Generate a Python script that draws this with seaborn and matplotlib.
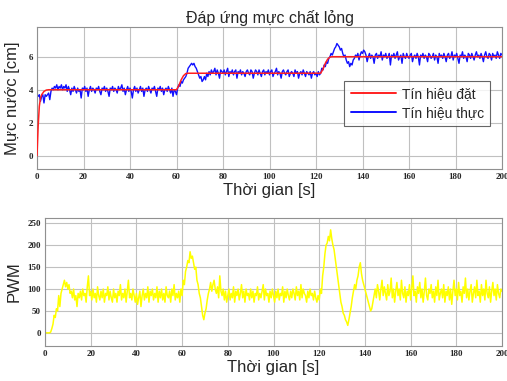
import numpy as np
import pandas as pd
import matplotlib
matplotlib.use("Agg")
import matplotlib.pyplot as plt
import seaborn as sns

# ---------------- data ----------------
title = "Đáp ứng mực chất lỏng"
ylabel_top = "Mực nước [cm]"
ylabel_bot = "PWM"
xlabel = "Thời gian [s]"
legend_labels = ["Tín hiệu đặt", "Tín hiệu thực"]

setpoint_t = [0, 0.5, 1, 1.5, 2, 3, 4, 5, 60, 61, 62, 63, 64, 65,
              122, 123, 124, 125, 126, 127, 200]
setpoint_v = [0, 1.8, 3.0, 3.5, 3.7, 3.9, 3.98, 4.0, 4.0, 4.25, 4.6, 4.85, 4.98, 5.0,
              5.0, 5.25, 5.6, 5.85, 5.98, 6.0, 6.0]

# samples every 0.5 s, 0 .. 200 s
time_s = [i * 0.5 for i in range(401)]

level_cm = [
    3.7, 3.6, 3.7, 3.3, 3.6, 3.7, 3.2, 3.7, 3.6, 3.7, 3.8, 3.4, 3.9, 4.1, 4.0, 4.2, 4.1, 4.3, 4.0, 4.2,
    4.1, 4.3, 4.0, 4.2, 4.1, 4.3, 3.9, 4.2, 4.0, 3.7, 4.1, 3.9, 4.2, 4.0, 3.8, 4.1, 3.9, 4.0, 3.5, 4.1,
    4.0, 4.2, 3.9, 4.1, 3.6, 4.0, 4.2, 3.9, 4.1, 4.0, 3.8, 4.1, 4.0, 4.2, 3.9, 3.7, 4.1, 4.0, 4.2, 3.9,
    4.1, 3.9, 3.6, 4.1, 4.0, 4.2, 3.9, 4.1, 4.0, 3.8, 4.2, 4.0, 4.1, 4.3, 3.9, 4.1, 3.7, 4.0, 4.2, 3.9,
    4.1, 3.9, 3.5, 4.0, 4.2, 3.9, 4.1, 3.8, 4.0, 4.2, 3.9, 4.1, 3.6, 4.0, 4.1, 3.9, 4.2, 4.0, 3.8, 4.1,
    4.0, 4.2, 3.9, 3.6, 4.1, 4.0, 4.2, 3.9, 4.1, 3.7, 4.0, 4.1, 3.9, 4.2, 4.0, 3.8, 4.1, 3.6, 4.0, 3.9,
    3.7, 4.1, 4.3, 4.2, 4.5, 4.4, 4.6, 4.7, 4.8, 5.0, 5.3, 5.4, 5.5, 5.6, 5.5, 5.6, 5.4, 5.3, 5.1, 4.9,
    4.7, 4.8, 4.5, 4.6, 4.8, 4.6, 5.0, 4.8, 5.1, 4.9, 5.2, 5.0, 5.1, 5.3, 4.9, 5.2, 5.0, 4.7, 5.2, 5.1,
    5.0, 5.2, 4.9, 5.1, 5.3, 4.8, 5.1, 5.0, 5.2, 4.9, 5.1, 5.2, 4.7, 5.1, 5.0, 5.2, 4.9, 5.1, 5.0, 4.8,
    5.1, 5.2, 5.0, 4.9, 5.2, 5.1, 4.7, 5.0, 5.2, 5.1, 4.9, 5.2, 5.0, 4.8, 5.1, 5.2, 4.9, 5.1, 5.0, 5.2,
    4.9, 5.1, 5.2, 4.8, 5.0, 5.1, 5.3, 4.9, 5.1, 5.0, 4.7, 5.1, 5.2, 5.0, 4.9, 5.1, 5.2, 4.8, 5.0, 5.1,
    5.0, 4.8, 5.2, 5.0, 5.1, 4.7, 5.0, 5.1, 4.9, 5.2, 5.0, 4.8, 5.1, 5.0, 4.9, 5.1, 4.7, 5.0, 5.1, 4.9,
    5.0, 4.8, 5.1, 4.9, 5.0, 5.3, 5.2, 5.5, 5.4, 5.7, 5.6, 5.9, 6.0, 6.2, 6.1, 6.3, 6.5, 6.6, 6.8, 6.7,
    6.6, 6.4, 6.5, 6.2, 6.0, 6.1, 5.8, 5.6, 5.7, 5.4, 5.6, 5.5, 5.8, 5.9, 6.1, 6.0, 6.2, 5.8, 6.1, 6.3,
    6.2, 6.4, 6.3, 6.1, 5.7, 6.0, 6.2, 5.9, 6.1, 6.0, 5.6, 6.1, 6.2, 5.9, 6.1, 6.0, 6.3, 5.8, 6.1, 6.0,
    6.2, 5.9, 6.0, 6.2, 5.5, 6.1, 6.0, 6.2, 5.9, 6.1, 6.3, 5.8, 6.0, 6.1, 5.6, 6.2, 6.0, 5.9, 6.2, 6.0,
    5.9, 6.1, 6.2, 5.7, 6.0, 6.1, 5.9, 6.2, 6.0, 5.5, 6.1, 6.0, 6.2, 5.9, 6.1, 6.0, 5.7, 6.2, 6.1, 5.9,
    6.0, 6.2, 5.8, 6.1, 6.0, 5.6, 6.2, 6.0, 6.1, 5.9, 6.2, 6.0, 5.7, 6.1, 6.2, 5.9, 6.0, 6.3, 5.8, 6.1,
    6.0, 6.2, 5.9, 5.6, 6.1, 6.0, 6.3, 5.9, 6.1, 6.0, 5.7, 6.2, 6.1, 5.9, 6.2, 6.0, 5.8, 6.1, 6.3, 6.0,
    6.1, 5.9, 6.2, 6.0, 5.7, 6.1, 6.3, 6.0, 5.9, 6.2, 6.1, 5.8, 6.2, 6.0, 6.1, 5.9, 6.3, 6.1, 5.9, 6.2,
    6.1,
]

pwm = [
    0, 0, 0, 0, 0, 2, 10, 20, 40, 35, 55, 50, 85, 60, 90, 100, 110, 120, 105, 115,
    100, 110, 90, 95, 80, 100, 75, 85, 60, 90, 80, 95, 75, 100, 85, 90, 70, 105, 130, 85,
    95, 75, 100, 80, 90, 70, 105, 85, 75, 95, 80, 100, 70, 90, 85, 105, 75, 95, 80, 70,
    100, 80, 90, 70, 95, 85, 110, 75, 90, 80, 100, 70, 95, 120, 80, 90, 75, 100, 85, 70,
    90, 65, 80, 95, 60, 85, 100, 75, 90, 80, 105, 70, 95, 85, 100, 75, 90, 80, 105, 70,
    95, 80, 100, 75, 90, 70, 105, 85, 80, 95, 70, 100, 85, 110, 75, 90, 80, 95, 70, 100,
    85, 120, 110, 140, 150, 165, 160, 185, 170, 175, 160, 145, 150, 120, 110, 90, 80, 60, 40, 30,
    45, 55, 75, 90, 100, 115, 95, 110, 120, 100, 90, 105, 80, 130, 95, 85, 100, 75, 95, 70,
    85, 100, 75, 90, 80, 105, 70, 95, 85, 100, 75, 90, 110, 80, 95, 70, 100, 85, 90, 75,
    100, 80, 95, 70, 90, 85, 105, 75, 90, 80, 95, 110, 75, 100, 85, 90, 70, 95, 80, 100,
    85, 70, 95, 80, 100, 75, 90, 85, 105, 70, 95, 80, 100, 85, 75, 95, 80, 100, 90, 75,
    105, 85, 95, 75, 110, 80, 100, 90, 85, 70, 95, 80, 100, 85, 90, 75, 95, 80, 70, 85,
    75, 100, 90, 130, 150, 180, 200, 205, 220, 210, 235, 215, 200, 190, 170, 150, 130, 110, 90, 70,
    60, 45, 40, 30, 25, 17, 30, 45, 60, 80, 95, 110, 100, 120, 130, 150, 160, 135, 120, 110,
    100, 90, 80, 70, 60, 50, 55, 70, 85, 100, 80, 110, 95, 75, 100, 120, 85, 105, 90, 75,
    110, 85, 95, 125, 80, 100, 70, 95, 115, 85, 100, 75, 120, 90, 80, 105, 70, 95, 85, 110,
    75, 100, 130, 85, 95, 70, 105, 90, 115, 80, 100, 70, 95, 125, 85, 75, 100, 90, 110, 80,
    95, 70, 105, 85, 120, 75, 90, 100, 80, 110, 70, 95, 85, 105, 75, 100, 65, 95, 120, 85,
    100, 75, 115, 85, 95, 70, 105, 90, 125, 80, 100, 75, 95, 110, 70, 90, 105, 80, 120, 85,
    95, 70, 110, 85, 100, 75, 120, 90, 80, 105, 70, 95, 115, 85, 100, 75, 110, 90, 80, 100,
    95,
]

x_ticks = list(range(0, 201, 20))
y_ticks_top = [0, 2, 4, 6]
y_ticks_bot = [0, 50, 100, 150, 200, 250]

# ---------------- plot ----------------
sns.set_style("whitegrid")
plt.rcParams["font.family"] = ["Liberation Sans", "DejaVu Sans"]

fig = plt.figure(figsize=(5.07, 3.81), dpi=100)
ax1 = fig.add_axes([37/507, 1-169/381, 465/507, 142/381])
ax2 = fig.add_axes([45/507, 1-346/381, 457/507, 128/381])

df_sp = pd.DataFrame({"t": setpoint_t, "v": setpoint_v})
df_lv = pd.DataFrame({"t": time_s, "v": level_cm})
df_pw = pd.DataFrame({"t": time_s, "v": pwm})

sns.lineplot(data=df_sp, x="t", y="v", ax=ax1, color="#ff2020", lw=1.1,
             label=legend_labels[0], zorder=3)
sns.lineplot(data=df_lv, x="t", y="v", ax=ax1, color="#1010ff", lw=1.0,
             label=legend_labels[1], zorder=2)
sns.lineplot(data=df_pw, x="t", y="v", ax=ax2, color="#ffff00", lw=1.1)

tick_font = dict(family="Liberation Serif", weight="bold", size=6.5)
for ax in (ax1, ax2):
    ax.set_xlim(0, 200)
    ax.set_xticks(x_ticks)
    ax.set_xticklabels([str(v) for v in x_ticks], fontdict=tick_font)
    ax.grid(True, color="#c0c0c0", lw=0.8)
    ax.set_facecolor("white")
    for s in ax.spines.values():
        s.set_color("#909090")
        s.set_linewidth(0.8)
    ax.tick_params(axis="both", length=0, pad=3)
    ax.set_xlabel(xlabel, fontsize=12, labelpad=1)

ax1.set_ylim(-0.8, 7.8)
ax1.set_yticks(y_ticks_top)
ax1.set_yticklabels([str(v) for v in y_ticks_top], fontdict=tick_font)
ax1.set_ylabel(ylabel_top, fontsize=12, labelpad=6)
ax1.set_title(title, fontsize=11.5, pad=3)

ax2.set_ylim(-30, 262)
ax2.set_yticks(y_ticks_bot)
ax2.set_yticklabels([str(v) for v in y_ticks_bot], fontdict=tick_font)
ax2.set_ylabel(ylabel_bot, fontsize=12, labelpad=4)

leg = ax1.legend(loc="lower right", bbox_to_anchor=(0.975, 0.30), fontsize=10,
                 handlelength=3.3, frameon=True, fancybox=False, borderpad=0.45,
                 labelspacing=0.35, handletextpad=0.4, borderaxespad=0)
leg.get_frame().set_edgecolor("#404040")
leg.get_frame().set_linewidth(0.8)
for line in leg.get_lines():
    line.set_linewidth(1.4)

fig.savefig("out.png", dpi=100)
